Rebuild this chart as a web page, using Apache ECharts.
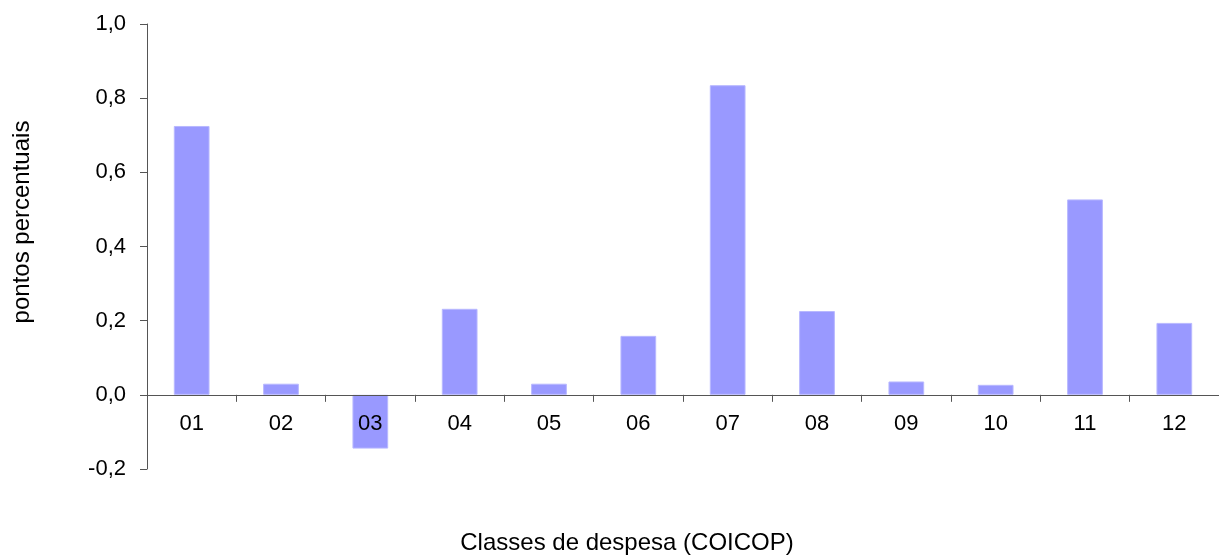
<!DOCTYPE html>
<html>
<head>
<meta charset="utf-8">
<script src="https://cdn.jsdelivr.net/npm/echarts@6/dist/echarts.min.js"></script>
<style>
html,body{margin:0;padding:0;background:#fff;}
#main{width:1219px;height:555px;}
</style>
</head>
<body>
<div id="main"></div>
<script>
var categories = ['01','02','03','04','05','06','07','08','09','10','11','12'];
var values = [0.725, 0.03, -0.145, 0.232, 0.03, 0.159, 0.835, 0.226, 0.036, 0.027, 0.527, 0.194];
var yTicks = { min: -0.2, max: 1.0, interval: 0.2 };
var xName = 'Classes de despesa (COICOP)';
var yName = 'pontos percentuais';

var FONT = '"Liberation Sans", Arial, sans-serif';
var GRID_TOP = 24, GRID_BOTTOM = 86, H = 555;
var plotH = H - GRID_TOP - GRID_BOTTOM;
var zeroFromBottom = plotH * (0 - yTicks.min) / (yTicks.max - yTicks.min);

var chart = echarts.init(document.getElementById('main'), null, {renderer: 'canvas'});
chart.setOption({
  animation: false,
  backgroundColor: '#ffffff',
  grid: { left: 147, top: GRID_TOP, bottom: GRID_BOTTOM, width: 1081, containLabel: false },
  xAxis: {
    type: 'category',
    data: categories,
    boundaryGap: true,
    z: 10,
    offset: -zeroFromBottom,
    axisLine: { onZero: false, lineStyle: { color: '#555', width: 1 } },
    axisTick: { show: true, inside: false, length: 7, lineStyle: { color: '#555' } },
    axisLabel: { color: '#000', fontSize: 22, fontFamily: FONT, margin: 18 },
    splitLine: { show: false }
  },
  yAxis: {
    type: 'value',
    min: yTicks.min, max: yTicks.max, interval: yTicks.interval,
    axisLine: { show: true, lineStyle: { color: '#555', width: 1 } },
    axisTick: { show: true, inside: false, length: 7, lineStyle: { color: '#555' } },
    axisLabel: {
      color: '#000', fontSize: 22, fontFamily: FONT, margin: 21,
      formatter: function (v) { return v.toFixed(1).replace('.', ','); }
    },
    splitLine: { show: false }
  },
  graphic: [
    {
      type: 'text', x: 627, y: 543,
      style: { text: xName, fontSize: 24, fontFamily: FONT, fill: '#000', align: 'center', verticalAlign: 'middle' }
    },
    {
      type: 'text', x: 22, y: 222, rotation: Math.PI / 2,
      style: { text: yName, fontSize: 24, fontFamily: FONT, fill: '#000', align: 'center', verticalAlign: 'middle' }
    }
  ],
  series: [{
    type: 'bar',
    data: values,
    barWidth: '40%',
    z: 2,
    itemStyle: { color: '#9999FF', borderColor: '#B8B8FF', borderWidth: 1 }
  }]
});
</script>
</body>
</html>
